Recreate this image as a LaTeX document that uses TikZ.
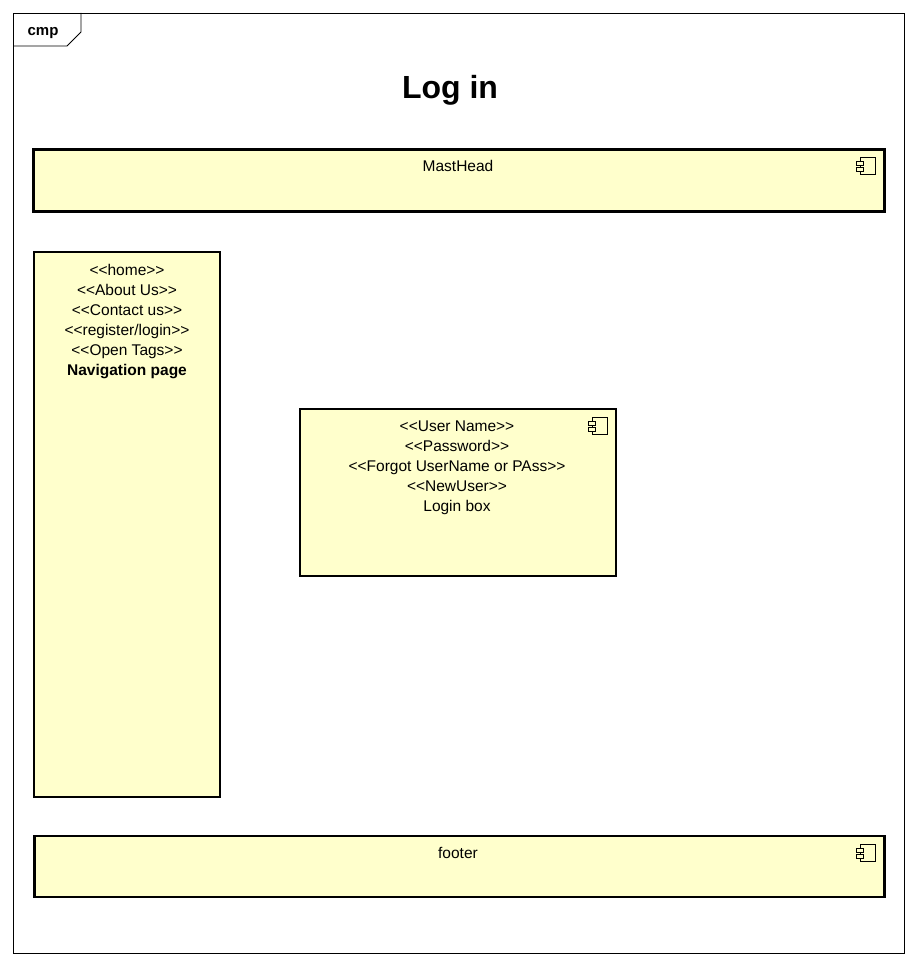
\documentclass[tikz,border=0pt]{standalone}
\usepackage{fontspec}
\setmainfont{Liberation Sans}
\usetikzlibrary{positioning}
\definecolor{compyellow}{RGB}{255,255,204}

% small component icon, placed at the top right corner of a box
\tikzset{compicon/.pic={
  \draw[line width=1pt,fill=compyellow] (-24,8) rectangle (-9,25);
  \draw[line width=1pt,fill=compyellow] (-28,12) rectangle (-21,16);
  \draw[line width=1pt,fill=compyellow] (-28,18) rectangle (-21,22);
}}

\begin{document}
\begin{tikzpicture}[x=1pt,y=-1pt,
  comp/.style={draw,line width=2.8pt,fill=compyellow,anchor=north west,inner sep=0pt,outer sep=0pt},
  txt/.style={inner sep=0pt,align=center,font=\fontsize{15.5}{20}\selectfont},
  frametab/.style={line width=0.8pt}]
\useasboundingbox (0,0) rectangle (918,966);
% frame
\draw[frametab] (13,13) rectangle (904,953);
\draw[frametab] (13,46) -- (67,46) -- (81,32) -- (81,13);
\node[inner sep=0pt,font=\fontsize{15}{17}\selectfont\bfseries] (tab) at (43,33) {cmp};
\node[inner sep=0pt,font=\fontsize{32}{36}\selectfont\bfseries] (title) at (450,90) {Log in};
% boxes
\node[comp,minimum width=851,minimum height=62] (masthead) at (33.5,149.5) {};
\node[comp,minimum width=186,minimum height=545] (nav) at (34,252) {};
\node[comp,minimum width=316,minimum height=167] (login) at (300,409) {};
\node[comp,minimum width=850,minimum height=61] (footer) at (34.5,836) {};
\pic at (masthead.north east) {compicon};
\pic at (login.north east) {compicon};
\pic at (footer.north east) {compicon};
% texts
\node[txt,anchor=north] (mastheadtxt) at (458,160) {MastHead};
\node[txt,anchor=north] (navtxt) at (127,264) {{<}{<}home{>}{>}\\{<}{<}About Us{>}{>}\\{<}{<}Contact us{>}{>}\\{<}{<}register/login{>}{>}\\{<}{<}Open Tags{>}{>}\\\textbf{Navigation page}};
\node[txt,anchor=north] (logintxt) at (457,421) {{<}{<}User Name{>}{>}\\{<}{<}Password{>}{>}\\{<}{<}Forgot UserName or PAss{>}{>}\\{<}{<}NewUser{>}{>}\\Login box};
\node[txt,anchor=north] (footertxt) at (458,847) {footer};
\end{tikzpicture}
\end{document}
